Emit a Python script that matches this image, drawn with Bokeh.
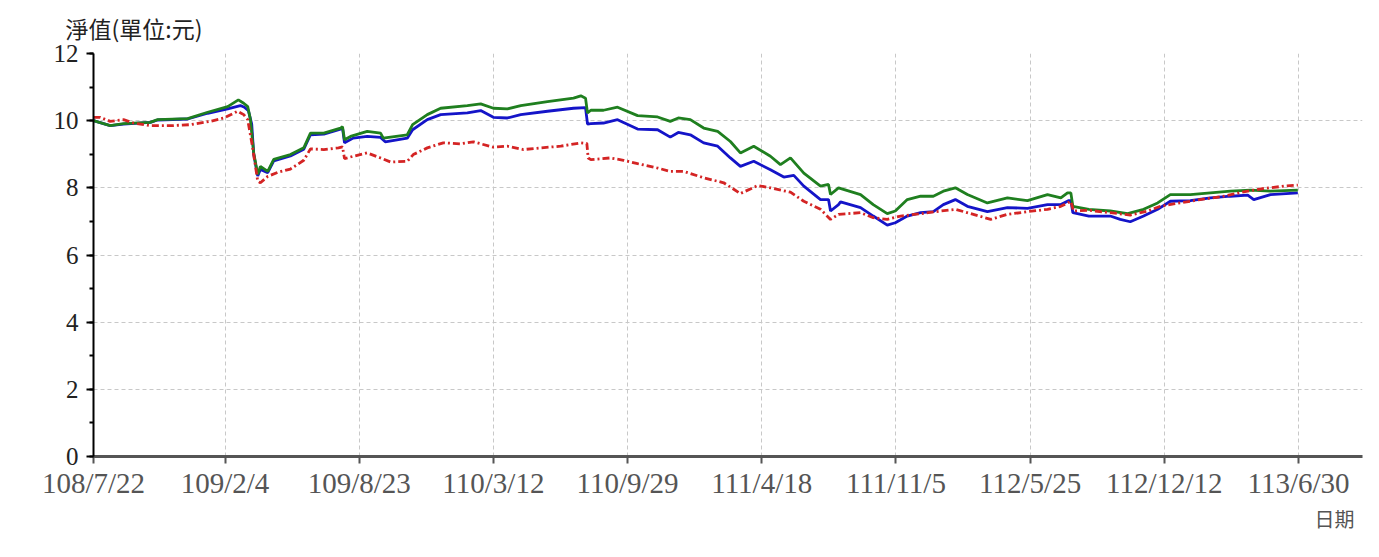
import pandas as pd
from bokeh.plotting import figure
from bokeh.models import FixedTicker, SingleIntervalTicker, Range1d, Title
from bokeh.embed import file_html
from bokeh.resources import INLINE

# ---- data ----
tick_labels = ["108/7/22", "109/2/4", "109/8/23", "110/3/12", "110/9/29",
               "111/4/18", "111/11/5", "112/5/25", "112/12/12", "113/6/30"]

green_dates = ["2019-07-22", "2019-08-16", "2019-09-05", "2019-10-15", "2019-10-26", "2019-12-10",
               "2020-01-09", "2020-02-08", "2020-02-24", "2020-03-03", "2020-03-09", "2020-03-13",
               "2020-03-18", "2020-03-24", "2020-03-28", "2020-04-08", "2020-04-17", "2020-05-12",
               "2020-06-01", "2020-06-11", "2020-07-01", "2020-07-26", "2020-07-29", "2020-08-01",
               "2020-08-10", "2020-09-04", "2020-09-24", "2020-09-28", "2020-11-03", "2020-11-11",
               "2020-12-03", "2020-12-23", "2021-02-01", "2021-02-21", "2021-03-12", "2021-04-02",
               "2021-04-22", "2021-06-01", "2021-07-10", "2021-07-21", "2021-07-28", "2021-07-31",
               "2021-08-05", "2021-08-24", "2021-09-14", "2021-10-14", "2021-11-13", "2021-12-02",
               "2021-12-14", "2022-01-01", "2022-01-21", "2022-02-11", "2022-03-02", "2022-03-17",
               "2022-04-06", "2022-05-01", "2022-05-16", "2022-05-31", "2022-06-20", "2022-07-15",
               "2022-07-27", "2022-07-30", "2022-08-11", "2022-09-13", "2022-10-02", "2022-10-23",
               "2022-11-04", "2022-11-22", "2022-12-12", "2022-12-31", "2023-01-15", "2023-02-02",
               "2023-02-20", "2023-03-22", "2023-04-21", "2023-05-21", "2023-06-20", "2023-07-10",
               "2023-07-20", "2023-07-25", "2023-07-28", "2023-08-21", "2023-09-22", "2023-10-18",
               "2023-11-11", "2023-12-02", "2023-12-21", "2024-01-20", "2024-02-19", "2024-03-20",
               "2024-04-19", "2024-05-19", "2024-06-29"]
green_values = [10.00, 9.85, 9.91, 9.95, 10.03, 10.06,
                10.25, 10.42, 10.62, 10.52, 10.42, 10.04,
                9.04, 8.40, 8.64, 8.49, 8.85, 8.99,
                9.19, 9.63, 9.63, 9.78, 9.82, 9.43,
                9.53, 9.68, 9.63, 9.48, 9.58, 9.88,
                10.18, 10.37, 10.45, 10.50, 10.37, 10.35,
                10.45, 10.57, 10.67, 10.74, 10.67, 10.23,
                10.31, 10.31, 10.40, 10.15, 10.11, 9.98,
                10.08, 10.03, 9.78, 9.68, 9.38, 9.04,
                9.24, 8.94, 8.69, 8.89, 8.44, 8.05,
                8.10, 7.80, 8.00, 7.80, 7.50, 7.23,
                7.31, 7.65, 7.75, 7.75, 7.90, 8.00,
                7.80, 7.55, 7.70, 7.62, 7.80, 7.70,
                7.85, 7.85, 7.45, 7.36, 7.31, 7.23,
                7.36, 7.55, 7.80, 7.80, 7.85, 7.90,
                7.93, 7.90, 7.93]

blue_dates = ["2019-07-22", "2019-08-16", "2019-09-05", "2019-10-15", "2019-10-26", "2019-12-10",
              "2020-01-09", "2020-02-08", "2020-02-27", "2020-03-04", "2020-03-10", "2020-03-15",
              "2020-03-18", "2020-03-24", "2020-03-28", "2020-04-08", "2020-04-17", "2020-05-12",
              "2020-06-01", "2020-06-11", "2020-07-01", "2020-07-26", "2020-07-29", "2020-08-01",
              "2020-08-14", "2020-09-04", "2020-09-24", "2020-10-01", "2020-11-03", "2020-11-11",
              "2020-12-03", "2020-12-23", "2021-02-01", "2021-02-21", "2021-03-12", "2021-04-02",
              "2021-04-22", "2021-06-01", "2021-07-10", "2021-07-28", "2021-07-31", "2021-08-05",
              "2021-08-24", "2021-09-14", "2021-10-14", "2021-11-13", "2021-12-02", "2021-12-14",
              "2022-01-01", "2022-01-21", "2022-02-11", "2022-03-02", "2022-03-17", "2022-04-06",
              "2022-05-01", "2022-05-21", "2022-06-05", "2022-06-20", "2022-07-15", "2022-07-27",
              "2022-07-30", "2022-08-11", "2022-08-14", "2022-09-13", "2022-10-02", "2022-10-23",
              "2022-11-04", "2022-11-22", "2022-12-12", "2022-12-31", "2023-01-15", "2023-02-02",
              "2023-02-20", "2023-03-22", "2023-04-21", "2023-05-21", "2023-06-20", "2023-07-10",
              "2023-07-22", "2023-07-25", "2023-07-28", "2023-08-21", "2023-09-22", "2023-10-07",
              "2023-10-22", "2023-11-11", "2023-12-02", "2023-12-21", "2024-01-20", "2024-02-19",
              "2024-03-20", "2024-04-15", "2024-04-24", "2024-05-19", "2024-06-29"]
blue_values = [10.00, 9.85, 9.90, 9.95, 10.02, 10.05,
               10.22, 10.35, 10.45, 10.40, 10.30, 9.90,
               9.00, 8.35, 8.55, 8.45, 8.80, 8.95,
               9.15, 9.58, 9.60, 9.75, 9.78, 9.34,
               9.48, 9.53, 9.50, 9.37, 9.48, 9.73,
               10.03, 10.18, 10.23, 10.30, 10.10, 10.08,
               10.18, 10.28, 10.37, 10.39, 9.90, 9.91,
               9.93, 10.03, 9.75, 9.73, 9.51, 9.65,
               9.58, 9.34, 9.24, 8.89, 8.64, 8.79,
               8.54, 8.32, 8.37, 8.05, 7.65, 7.65,
               7.31, 7.50, 7.58, 7.41, 7.16, 6.89,
               6.96, 7.16, 7.26, 7.29, 7.50, 7.65,
               7.45, 7.29, 7.41, 7.39, 7.50, 7.50,
               7.62, 7.62, 7.26, 7.16, 7.16, 7.06,
               6.99, 7.16, 7.36, 7.60, 7.62, 7.70,
               7.75, 7.78, 7.65, 7.80, 7.85]

red_dates = ["2019-07-22", "2019-08-01", "2019-08-16", "2019-09-05", "2019-09-20", "2019-10-15",
             "2019-11-14", "2019-12-14", "2020-01-13", "2020-02-02", "2020-02-23", "2020-03-03",
             "2020-03-09", "2020-03-16", "2020-03-24", "2020-03-28", "2020-04-08", "2020-04-23",
             "2020-05-12", "2020-06-01", "2020-06-11", "2020-07-01", "2020-07-23", "2020-07-29",
             "2020-08-01", "2020-08-14", "2020-09-04", "2020-09-24", "2020-10-09", "2020-11-03",
             "2020-11-12", "2020-12-03", "2020-12-27", "2021-01-22", "2021-02-10", "2021-03-12",
             "2021-04-02", "2021-04-26", "2021-05-22", "2021-06-21", "2021-07-21", "2021-07-30",
             "2021-08-01", "2021-08-05", "2021-09-03", "2021-09-23", "2021-10-14", "2021-11-13",
             "2021-12-02", "2021-12-22", "2022-01-21", "2022-02-20", "2022-03-17", "2022-04-12",
             "2022-05-01", "2022-05-31", "2022-06-20", "2022-07-15", "2022-07-30", "2022-08-11",
             "2022-09-13", "2022-10-02", "2022-10-23", "2022-11-12", "2022-12-12", "2023-01-11",
             "2023-02-02", "2023-03-01", "2023-03-27", "2023-04-21", "2023-05-21", "2023-06-20",
             "2023-07-10", "2023-07-25", "2023-07-29", "2023-08-21", "2023-09-22", "2023-10-22",
             "2023-11-17", "2023-12-06", "2023-12-26", "2024-02-04", "2024-03-10", "2024-04-09",
             "2024-05-09", "2024-06-08", "2024-06-29"]
red_values = [10.10, 10.10, 9.98, 10.03, 9.93, 9.85,
              9.85, 9.88, 9.98, 10.08, 10.28, 10.18,
              10.03, 9.24, 8.20, 8.15, 8.34, 8.46,
              8.56, 8.82, 9.16, 9.14, 9.19, 9.22,
              8.87, 8.94, 9.04, 8.89, 8.77, 8.79,
              8.99, 9.19, 9.34, 9.31, 9.37, 9.21,
              9.24, 9.14, 9.19, 9.24, 9.34, 9.32,
              8.89, 8.84, 8.89, 8.82, 8.72, 8.59,
              8.49, 8.49, 8.30, 8.15, 7.83, 8.07,
              8.00, 7.87, 7.60, 7.36, 7.06, 7.21,
              7.26, 7.11, 7.06, 7.16, 7.23, 7.31,
              7.36, 7.21, 7.06, 7.21, 7.29, 7.36,
              7.45, 7.60, 7.31, 7.33, 7.26, 7.19,
              7.31, 7.45, 7.52, 7.65, 7.75, 7.88,
              7.98, 8.05, 8.08]

title_text = "淨值(單位:元)"
xlabel_text = "日期"

# ---- helpers ----
base = pd.Timestamp("2019-07-22")


def to_days(dates):
    return [(pd.Timestamp(d) - base).days for d in dates]


def roc_to_days(s):
    y, m, d = (int(v) for v in s.split("/"))
    return (pd.Timestamp(y + 1911, m, d) - base).days


tick_days = [roc_to_days(s) for s in tick_labels]
span = tick_days[-1] - tick_days[0]
x_end = tick_days[0] + span * 1269 / 1205

p = figure(width=1371, height=549, output_backend="svg", toolbar_location=None,
           x_range=Range1d(tick_days[0], x_end), y_range=Range1d(0, 12),
           min_border_left=93, min_border_right=9, min_border_top=52, min_border_bottom=93,
           background_fill_color="white", border_fill_color="white")
p.outline_line_color = None

# title (top left) and x label (bottom right)
p.title.text = title_text
p.title.align = "left"
p.title.offset = -28
p.title.text_font = "Noto Sans CJK TC"
p.title.text_font_size = "23px"
p.title.text_font_style = "normal"
p.title.text_color = "#222222"
p.title.standoff = 17

p.add_layout(Title(text=xlabel_text, align="right", offset=8, text_font="Noto Sans CJK TC",
                   text_font_size="20px", text_font_style="normal", text_color="#555555",
                   standoff=0), "below")

# axes
p.yaxis.ticker = SingleIntervalTicker(interval=2, num_minor_ticks=2)
p.xaxis.ticker = FixedTicker(ticks=tick_days, minor_ticks=[])
p.xaxis.major_label_overrides = {d: lab for d, lab in zip(tick_days, tick_labels)}

p.yaxis.axis_line_color = "black"
p.yaxis.axis_line_width = 2
p.yaxis.major_tick_line_color = "black"
p.yaxis.major_tick_line_width = 2
p.yaxis.major_tick_out = 7
p.yaxis.major_tick_in = 0
p.yaxis.minor_tick_line_color = "black"
p.yaxis.minor_tick_line_width = 2
p.yaxis.minor_tick_out = 4
p.yaxis.minor_tick_in = 0
p.yaxis.major_label_text_font = "Liberation Serif"
p.yaxis.major_label_text_font_size = "25px"
p.yaxis.major_label_text_color = "#222222"
p.yaxis.major_label_standoff = 8

p.xaxis.axis_line_color = "#555555"
p.xaxis.axis_line_width = 3
p.xaxis.major_tick_line_color = "#555555"
p.xaxis.major_tick_line_width = 2
p.xaxis.major_tick_out = 7
p.xaxis.major_tick_in = 0
p.xaxis.minor_tick_line_color = None
p.xaxis.major_label_text_font = "Liberation Serif"
p.xaxis.major_label_text_font_size = "29px"
p.xaxis.major_label_text_color = "#555555"
p.xaxis.major_label_standoff = 3

p.xgrid.grid_line_color = "#c8c8c8"
p.xgrid.grid_line_dash = "4 3"
p.ygrid.grid_line_color = "#c8c8c8"
p.ygrid.grid_line_dash = "4 3"

# lines
p.line(to_days(blue_dates), blue_values, line_color="#1414c8", line_width=2.8)
p.line(to_days(green_dates), green_values, line_color="#1f7f1f", line_width=2.8)
p.line(to_days(red_dates), red_values, line_color="#d42424", line_width=2.8,
       line_dash="7 3 2 3")

open("out.html", "w").write(file_html(p, INLINE))
